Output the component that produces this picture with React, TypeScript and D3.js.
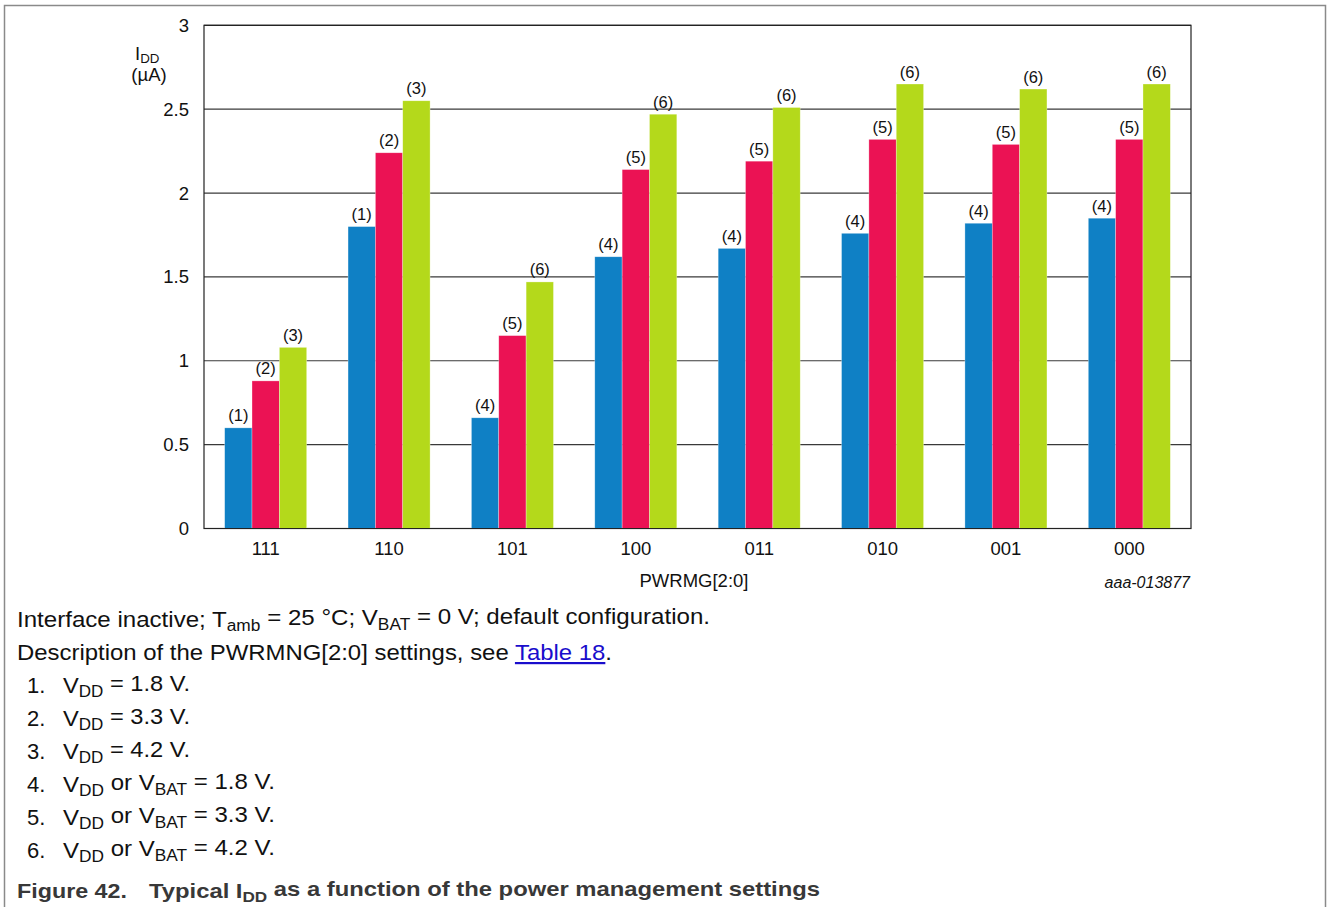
import React from "react";
import * as d3 from "d3";

const categories = ["111", "110", "101", "100", "011", "010", "001", "000"];
const seriesKeys = ["low", "mid", "high"];
const lowValues = [0.6, 1.8, 0.66, 1.62, 1.67, 1.76, 1.82, 1.85];
const midValues = [0.88, 2.24, 1.15, 2.14, 2.19, 2.32, 2.29, 2.32];
const highValues = [1.08, 2.55, 1.47, 2.47, 2.51, 2.65, 2.62, 2.65];
const lowNotes = ["(1)", "(1)", "(4)", "(4)", "(4)", "(4)", "(4)", "(4)"];
const midNotes = ["(2)", "(2)", "(5)", "(5)", "(5)", "(5)", "(5)", "(5)"];
const highNotes = ["(3)", "(3)", "(6)", "(6)", "(6)", "(6)", "(6)", "(6)"];
const yTicks = [0, 0.5, 1, 1.5, 2, 2.5, 3];
const seriesColors = ["#0f80c5", "#eb1254", "#b4d91b"];

const FONT = "'Liberation Sans', Arial, sans-serif";

const seriesValues = [lowValues, midValues, highValues];
const seriesNotes = [lowNotes, midNotes, highNotes];

function Sub({ children }: { children: React.ReactNode }) {
  return (
    <tspan fontSize="0.72em" dy="0.28em">
      {children}
    </tspan>
  );
}

export default function App() {
  const left = 204,
    right = 1191,
    top = 25.3,
    bottom = 528.5;
  const x = d3
    .scaleBand<string>()
    .domain(categories)
    .range([left, right])
    .paddingInner(0.335)
    .paddingOuter(0.1675);
  const xi = d3.scaleBand<string>().domain(seriesKeys).range([0, x.bandwidth()]);
  const y = d3.scaleLinear().domain([0, 3]).range([bottom, top]);

  const lineY0 = 627;
  const lh = 33;
  const listItems: { node: React.ReactNode; len: number }[] = [
    { node: <>V<Sub>DD</Sub><tspan dy="-0.28em"> = 1.8 V.</tspan></>, len: 127 },
    { node: <>V<Sub>DD</Sub><tspan dy="-0.28em"> = 3.3 V.</tspan></>, len: 127 },
    { node: <>V<Sub>DD</Sub><tspan dy="-0.28em"> = 4.2 V.</tspan></>, len: 127 },
    {
      node: <>V<Sub>DD</Sub><tspan dy="-0.28em"> or V</tspan><Sub>BAT</Sub><tspan dy="-0.28em"> = 1.8 V.</tspan></>,
      len: 212,
    },
    {
      node: <>V<Sub>DD</Sub><tspan dy="-0.28em"> or V</tspan><Sub>BAT</Sub><tspan dy="-0.28em"> = 3.3 V.</tspan></>,
      len: 212,
    },
    {
      node: <>V<Sub>DD</Sub><tspan dy="-0.28em"> or V</tspan><Sub>BAT</Sub><tspan dy="-0.28em"> = 4.2 V.</tspan></>,
      len: 212,
    },
  ];

  return (
    <svg
      width={1328}
      height={907}
      style={{ position: "absolute", left: 0, top: 0, background: "#fff" }}
      fontFamily={FONT}
    >
      <rect x={0} y={0} width={1328} height={907} fill="#fff" />
      {/* outer frame */}
      <path d="M4.5,907 V5.5 H1325.5 V907" fill="none" stroke="#8a8a8a" strokeWidth={1.5} />

      {/* gridlines */}
      {yTicks.map((t) => (
        <line key={t} x1={left} x2={right} y1={y(t)} y2={y(t)} stroke="#3a3a3a" strokeWidth={1.2} />
      ))}
      {/* plot frame */}
      <rect x={left} y={top} width={right - left} height={bottom - top} fill="none" stroke="#222" strokeWidth={1.2} />

      {/* bars */}
      {categories.map((c, i) => (
        <g key={c} transform={`translate(${x(c)},0)`}>
          {seriesKeys.map((k, s) => {
            const v = seriesValues[s][i];
            const bx = xi(k)!;
            return (
              <g key={k}>
                <rect
                  x={bx}
                  y={y(v)}
                  width={xi.bandwidth()}
                  height={bottom - y(v)}
                  fill={seriesColors[s]}
                  stroke="#fff"
                  strokeOpacity={0.5}
                  strokeWidth={0.6}
                />
                <text
                  x={bx + xi.bandwidth() / 2}
                  y={y(v) - 6.5}
                  textAnchor="middle"
                  fontSize={16.5}
                  fill="#111"
                >
                  {seriesNotes[s][i]}
                </text>
              </g>
            );
          })}
        </g>
      ))}
      {/* bottom axis line */}
      <line x1={left} x2={right} y1={bottom} y2={bottom} stroke="#222" strokeWidth={1.2} />

      {/* y tick labels */}
      {yTicks.map((t) => (
        <text key={t} x={189} y={y(t) + 6.5} textAnchor="end" fontSize={18.5} fill="#111">
          {d3.format("")(t)}
        </text>
      ))}
      {/* x tick labels */}
      {categories.map((c) => (
        <text key={c} x={x(c)! + x.bandwidth() / 2} y={555} textAnchor="middle" fontSize={18.5} fill="#111">
          {c}
        </text>
      ))}

      {/* y axis title */}
      <text x={135} y={60} fontSize={18.5} fill="#111">
        I
        <tspan fontSize="0.72em" dy="0.2em">
          DD
        </tspan>
      </text>
      <text x={149} y={81} textAnchor="middle" fontSize={18.5} fill="#111">
        (µA)
      </text>

      {/* x axis title */}
      <text x={694} y={587} textAnchor="middle" fontSize={18.5} fill="#111">
        PWRMG[2:0]
      </text>
      <text x={1190} y={588} textAnchor="end" fontSize={16} fontStyle="italic" fill="#111">
        aaa-013877
      </text>

      {/* notes */}
      <g fontSize={22} fill="#111">
        <text x={17} y={lineY0} textLength={693} lengthAdjust="spacingAndGlyphs">
          Interface inactive; T<Sub>amb</Sub>
          <tspan dy="-0.28em"> = 25 °C; V</tspan>
          <Sub>BAT</Sub>
          <tspan dy="-0.28em"> = 0 V; default configuration.</tspan>
        </text>
        <text x={17} y={lineY0 + lh} textLength={595} lengthAdjust="spacingAndGlyphs">
          Description of the PWRMNG[2:0] settings, see{" "}
          <tspan fill="#1a0dcc" textDecoration="underline">
            Table 18
          </tspan>
          .
        </text>
        {listItems.map((item, i) => (
          <g key={i}>
            <text x={27} y={lineY0 + lh * (i + 2)}>
              {i + 1}.
            </text>
            <text x={63} y={lineY0 + lh * (i + 2)} textLength={item.len} lengthAdjust="spacingAndGlyphs">
              {item.node}
            </text>
          </g>
        ))}
      </g>
      <g fontSize={21} fontWeight="bold" fill="#383838">
        <text x={17} y={898} textLength={110} lengthAdjust="spacingAndGlyphs">
          Figure 42.
        </text>
        <text x={149} y={898} textLength={671} lengthAdjust="spacingAndGlyphs">
          Typical I<Sub>DD</Sub>
          <tspan dy="-0.28em"> as a function of the power management settings</tspan>
        </text>
      </g>
    </svg>
  );
}
